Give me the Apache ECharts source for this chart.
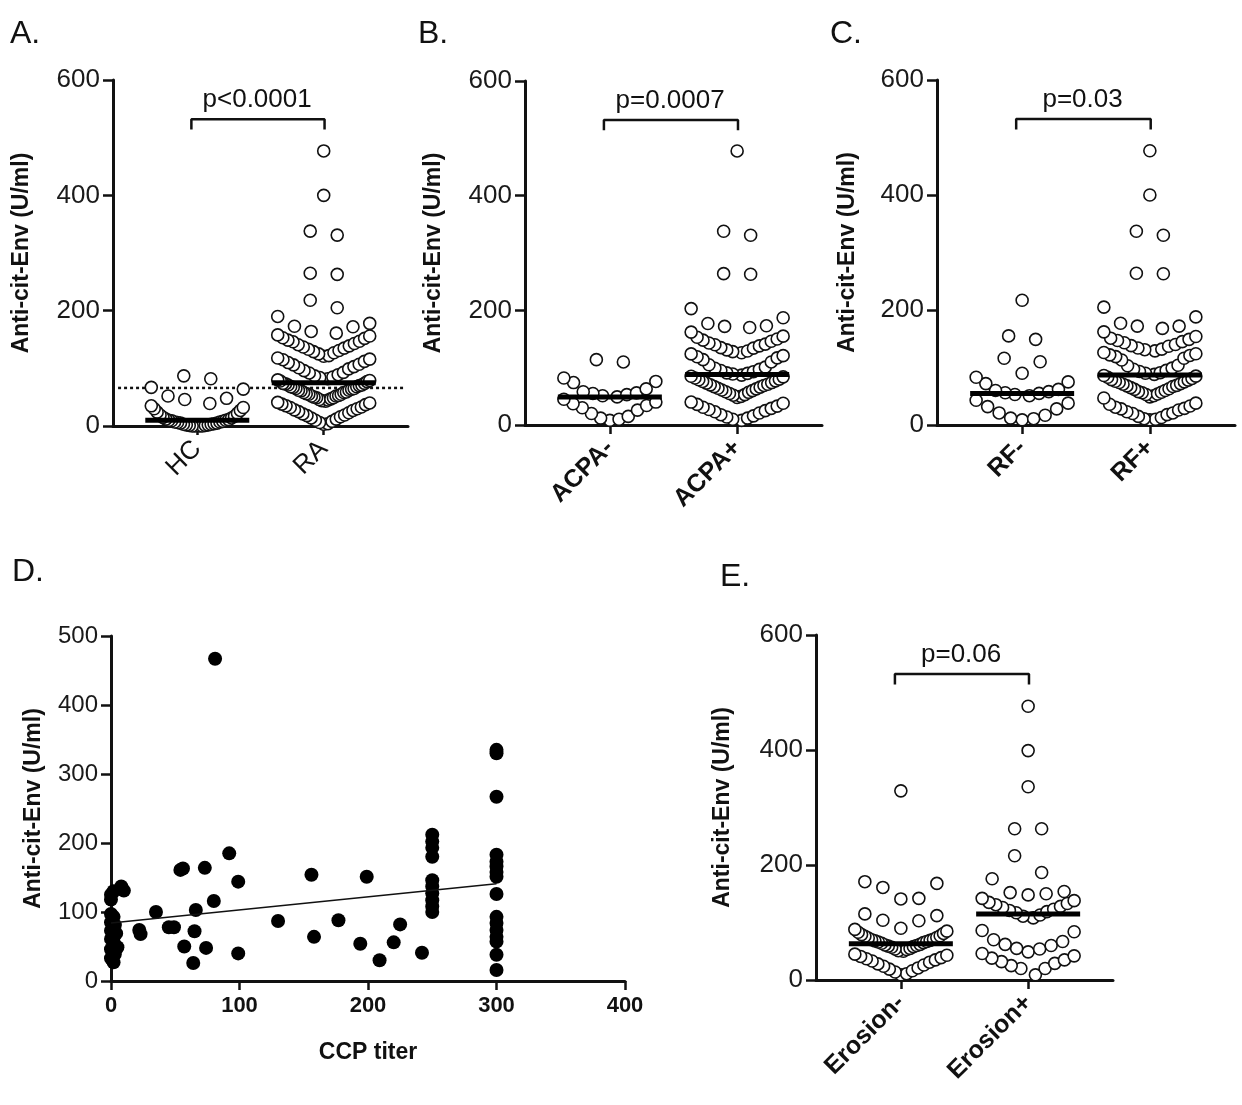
<!DOCTYPE html>
<html>
<head>
<meta charset="utf-8">
<script src="https://cdn.jsdelivr.net/npm/echarts@6/dist/echarts.min.js"></script>
<style>
html, body { margin: 0; background: #fff; }
#main { width: 1242px; height: 1105px; }
</style>
</head>
<body>
<div id="main"></div>
<script>
// ---- data ----
// A. healthy controls vs RA
var hcValues = [87, 82, 67, 64, 52, 48, 46, 39, 35, 32, 30, 27, 24, 22, 19, 17, 15, 14, 12, 11, 10, 10, 9, 8, 7, 7, 6, 5, 5, 4, 3, 3, 2, 2, 1, 1, 0, 0, 0, 0];
var raValues = [477, 400, 338, 331, 265, 263, 218, 205, 190, 178, 173, 172, 164,
  161, 158, 156, 153, 152, 149, 147, 146, 143, 141, 139, 137, 135, 133, 131, 129,
  127, 125, 122, 121, 118, 116, 115, 112, 110, 107, 106, 103, 101, 99,
  96, 93, 92, 89, 87, 85, 84, 82, 80, 79, 78, 77,
  74, 74, 73, 71, 71, 70, 68, 68, 67, 65, 65, 64, 62, 62, 61, 59, 58, 58, 56, 55, 55, 53, 52, 52, 50, 49, 49, 47, 46, 45,
  44, 43, 41, 40, 38, 37, 35, 33, 32, 30, 28, 27, 25, 23, 21, 19, 18, 16, 14, 12, 10, 8, 6, 4, 3];
// B. ACPA status
var acpaNeg = [114, 110, 82, 76, 74, 63, 58, 56, 55, 53, 51, 49, 45, 40, 37, 34, 30, 26, 20, 15, 12, 10, 8];
var acpaPos = [478, 338, 331, 264, 263, 203, 187, 177, 173, 172, 170, 162, 155, 153, 150, 148, 146, 143, 141, 140,
  138, 135, 134, 131, 129, 128, 126, 124, 121, 119, 117, 114, 110, 105, 101, 99, 97, 95, 93, 91, 90, 89,
  87, 85, 84, 82, 80, 79, 77, 76, 74, 73, 71, 70, 69, 67, 66, 64, 63, 61, 60, 58,
  57, 55, 53, 52, 50, 48, 40, 38, 36, 33, 31, 29, 27, 25, 23, 21, 18, 16, 14, 12, 10, 8];
// C. RF status
var rfNeg = [217, 155, 149, 116, 110, 90, 83, 75, 72, 62, 60, 58, 56, 55, 53, 51, 43, 38, 32, 28, 21, 17, 12, 11, 9];
var rfPos = [477, 400, 337, 330, 264, 263, 205, 188, 177, 172, 172, 168, 162, 154, 151, 149, 147, 145, 143, 140,
  138, 137, 134, 132, 131, 129, 126, 124, 122, 121, 119, 116, 113, 104, 103, 99, 97, 95, 93, 91, 90, 88,
  86, 85, 83, 81, 79, 78, 76, 75, 74, 72, 71, 69, 68, 67, 65, 63, 62, 60, 58, 57,
  56, 54, 53, 51, 49, 47, 38, 36, 33, 31, 29, 28, 26, 23, 21, 20, 18, 15, 13, 11, 10, 9];
// E. erosion
var erosionNeg = [329, 171, 168, 161, 142, 141, 115, 112, 104, 103, 90, 88, 85, 83, 81, 79, 77, 76, 74, 73, 71, 70, 69, 68, 67, 66, 65, 64,
  62, 61, 60, 59, 58, 57, 55, 54, 53, 51, 50, 45, 43, 41, 39, 37, 35, 33, 31, 28, 26, 24, 21, 19, 16, 14, 11, 9];
var erosionPos = [476, 399, 336, 263, 263, 216, 187, 176, 154, 152, 150, 148, 142, 138, 135, 133, 131, 128, 126, 123, 121, 119, 117,
  113, 111, 108, 86, 84, 70, 67, 62, 60, 55, 54, 49, 46, 42, 38, 35, 32, 29, 25, 20, 20, 9];

var mediansA = [10, 75];
var mediansB = [49, 88];
var mediansC = [55, 87];
var mediansE = [63, 115];
var pLabels = ['p<0.0001', 'p=0.0007', 'p=0.03', 'p=0.06'];

// D. CCP titer vs anti-cit-Env
var ccpTiter = [0, 2, 0, 8, 10, 0, 2, 0, 3, 0, 4, 0, 2, 5, 0, 3, 0, 2,
  22, 23, 35, 45, 49, 54, 56, 57, 64, 65, 66, 73, 74, 80, 81, 92, 99, 99, 130, 156, 158, 177, 194, 199, 209, 220, 225, 242,
  250, 250, 250, 250, 250, 250, 250, 250, 250, 250,
  300, 300, 300, 300, 300, 300, 300, 300, 300, 300, 300, 300, 300, 300, 300, 300];
var ccpCitEnv = [125, 130, 118, 137, 131, 97, 93, 85, 81, 73, 69, 61, 57, 49, 46, 39, 33, 27,
  74, 68, 100, 78, 78, 161, 163, 50, 26, 72, 103, 164, 48, 116, 467, 185, 144, 40, 87, 154, 64, 88, 54, 151, 30, 56, 82, 41,
  212, 202, 193, 180, 146, 137, 127, 117, 108, 100,
  335, 330, 267, 183, 173, 166, 158, 151, 126, 93, 84, 74, 64, 57, 38, 16];
var fitLine = [[0, 84], [300, 141]];

// ---- layout ----
var grids = [
  {left: 113, top: 80, width: 295, height: 346},   // A
  {left: 525, top: 81, width: 297, height: 344},   // B
  {left: 937, top: 80, width: 298, height: 345},   // C
  {left: 111, top: 636, width: 514, height: 345},  // D
  {left: 816, top: 635, width: 297, height: 345}   // E
];

var dotPanels = [
  {grid: 0, names: ['HC', 'RA'], groups: [hcValues, raValues], medians: mediansA, p: pLabels[0], bold: false, gap: 80},
  {grid: 1, names: ['ACPA-', 'ACPA+'], groups: [acpaNeg, acpaPos], medians: mediansB, p: pLabels[1], bold: true, gap: 80},
  {grid: 2, names: ['RF-', 'RF+'], groups: [rfNeg, rfPos], medians: mediansC, p: pLabels[2], bold: true, gap: 78},
  {grid: 4, names: ['Erosion-', 'Erosion+'], groups: [erosionNeg, erosionPos], medians: mediansE, p: pLabels[3], bold: true, gap: 82}
];

var FONT = 'Liberation Sans, Arial, sans-serif';
var INK = '#111';
var catPos = [2, 5];

// prism-like column scatter: values in horizontal rows, lowest in middle
function swarm(values, center, pxPerX, pxPerY) {
  var sorted = values.slice().sort(function (a, b) { return a - b; });
  var rowH = 22 / pxPerY;
  var pts = [];
  var i = 0;
  while (i < sorted.length) {
    var start = sorted[i], row = [];
    while (i < sorted.length && sorted[i] < start + rowH) row.push(sorted[i++]);
    var n = row.length, slots = [], k;
    if (n % 2) {
      slots.push(0);
      for (k = 1; k <= (n - 1) / 2; k++) slots.push(k, -k);
    } else {
      for (k = 0; k < n / 2; k++) slots.push(k + 0.75, -(k + 0.75));
    }
    var maxSlot = Math.abs(slots[slots.length - 1]) || 1;
    var sp = Math.min(18, 46 / maxSlot);
    for (var j = 0; j < n; j++) pts.push([center + slots[j] * sp / pxPerX, row[j]]);
  }
  return pts;
}

var xAxes = [], yAxes = [], series = [];

dotPanels.forEach(function (pn) {
  var g = grids[pn.grid];
  var pxPerX = g.width / 7, pxPerY = g.height / 600;
  var names = pn.names;
  xAxes[pn.grid] = {
    gridIndex: pn.grid, type: 'value', min: 0, max: 7,
    axisLine: {show: true, onZero: true, lineStyle: {color: INK, width: 3}},
    axisTick: {show: true, customValues: catPos, length: 9, lineStyle: {color: INK, width: 2.5}},
    axisLabel: {
      customValues: catPos, rotate: 45, margin: 19, fontSize: pn.bold ? 25 : 26, color: INK, fontFamily: FONT,
      fontWeight: pn.bold ? 'bold' : 'normal',
      formatter: function (v) { return v === 2 ? names[0] : names[1]; }
    },
    splitLine: {show: false}
  };
  yAxes[pn.grid] = {
    gridIndex: pn.grid, type: 'value', min: 0, max: 600, interval: 200,
    name: 'Anti-cit-Env (U/ml)', nameLocation: 'middle', nameGap: pn.gap,
    nameTextStyle: {fontSize: 23, fontWeight: 'bold', color: INK, fontFamily: FONT},
    axisLine: {show: true, lineStyle: {color: INK, width: 3}},
    axisTick: {show: true, length: 10, lineStyle: {color: INK, width: 2.5}},
    axisLabel: {fontSize: 26, color: '#1a1a1a', margin: 13, fontFamily: FONT},
    splitLine: {show: false}
  };
  pn.groups.forEach(function (vals, gi) {
    series.push({
      type: 'scatter', xAxisIndex: pn.grid, yAxisIndex: pn.grid, clip: false,
      symbol: 'circle', symbolSize: 12,
      itemStyle: {color: '#fff', borderColor: INK, borderWidth: 1.6, opacity: 1},
      data: swarm(vals, catPos[gi], pxPerX, pxPerY), z: 3
    });
    var half = 52 / pxPerX;
    series.push({
      type: 'line', xAxisIndex: pn.grid, yAxisIndex: pn.grid, symbol: 'none',
      lineStyle: {color: '#000', width: 5},
      data: [[catPos[gi] - half, pn.medians[gi]], [catPos[gi] + half, pn.medians[gi]]], z: 5
    });
  });
  // bracket + p value
  series.push({
    type: 'line', xAxisIndex: pn.grid, yAxisIndex: pn.grid, symbol: 'none',
    lineStyle: {color: INK, width: 2.5},
    data: [[1.86, 514], [1.86, 532], [5.02, 532], [5.02, 514]], z: 4
  });
  series.push({
    type: 'scatter', xAxisIndex: pn.grid, yAxisIndex: pn.grid, symbolSize: 0,
    data: [[3.42, 566]], silent: true,
    itemStyle: {opacity: 1, color: INK},
    label: {show: true, position: 'inside', formatter: pn.p, fontSize: 26, color: INK,
      opacity: 1, textBorderWidth: 0, fontFamily: FONT}
  });
});

// only panel A has the cut-off line
series.push({
  type: 'line', xAxisIndex: 0, yAxisIndex: 0, symbol: 'none',
  lineStyle: {color: INK, width: 2.5, type: [3, 3]},
  data: [[0.12, 66], [6.93, 66]], z: 2
});

// panel D
xAxes[3] = {
  gridIndex: 3, type: 'value', min: 0, max: 400, interval: 100,
  name: 'CCP titer', nameLocation: 'middle', nameGap: 60,
  nameTextStyle: {fontSize: 23, fontWeight: 'bold', color: INK, fontFamily: FONT},
  axisLine: {show: true, lineStyle: {color: INK, width: 3}},
  axisTick: {show: true, length: 9, lineStyle: {color: INK, width: 2.5}},
  axisLabel: {fontSize: 22, fontWeight: 'bold', color: INK, margin: 14, fontFamily: FONT},
  splitLine: {show: false}
};
yAxes[3] = {
  gridIndex: 3, type: 'value', min: 0, max: 500, interval: 100,
  name: 'Anti-cit-Env (U/ml)', nameLocation: 'middle', nameGap: 66,
  nameTextStyle: {fontSize: 23, fontWeight: 'bold', color: INK, fontFamily: FONT},
  axisLine: {show: true, lineStyle: {color: INK, width: 3}},
  axisTick: {show: true, length: 10, lineStyle: {color: INK, width: 2.5}},
  axisLabel: {fontSize: 24, color: '#1a1a1a', margin: 13, fontFamily: FONT},
  splitLine: {show: false}
};
series.push({
  type: 'scatter', xAxisIndex: 3, yAxisIndex: 3, clip: false,
  symbol: 'circle', symbolSize: 14, itemStyle: {color: '#000', opacity: 1},
  data: ccpTiter.map(function (t, i) { return [t, ccpCitEnv[i]]; })
});
series.push({
  type: 'line', xAxisIndex: 3, yAxisIndex: 3, symbol: 'none',
  lineStyle: {color: INK, width: 1.5}, data: fitLine, z: 4
});

var letters = [['A.', 10, 18], ['B.', 418, 18], ['C.', 830, 18], ['D.', 12, 556], ['E.', 720, 561]];

var chart = echarts.init(document.getElementById('main'));
chart.setOption({
  backgroundColor: '#fff',
  animation: false,
  grid: grids.map(function (g) {
    return {left: g.left, top: g.top, width: g.width, height: g.height, containLabel: false, outerBoundsMode: 'none'};
  }),
  xAxis: xAxes,
  yAxis: yAxes,
  series: series,
  graphic: letters.map(function (l) {
    return {type: 'text', left: l[1], top: l[2], style: {text: l[0], fontSize: 32, fill: INK, fontFamily: FONT}};
  })
});
</script>
</body>
</html>
